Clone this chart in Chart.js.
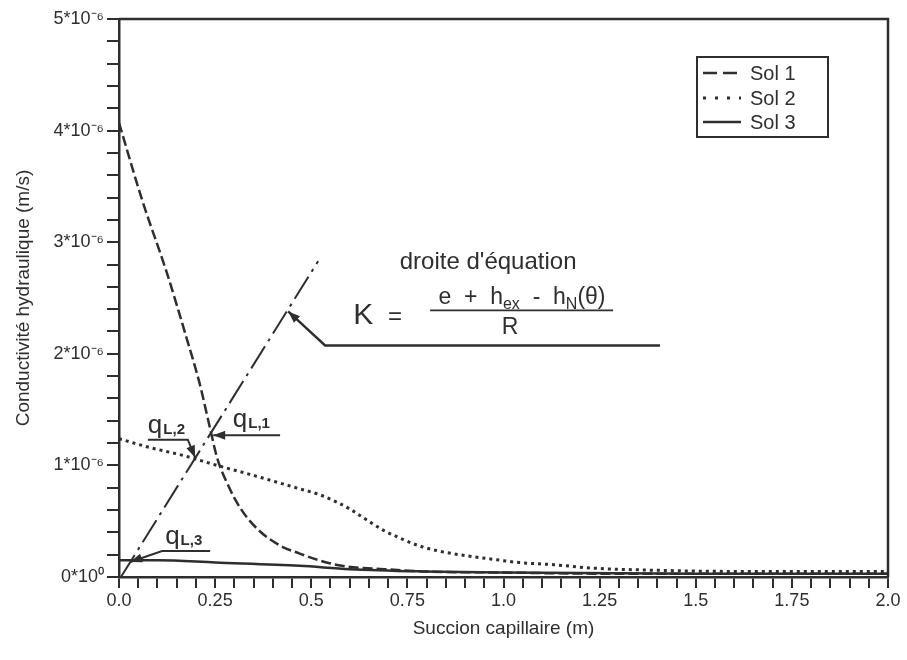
<!DOCTYPE html>
<html lang="fr">
  <head>
    <meta charset="UTF-8" />
    <title>Conductivité hydraulique</title>
    <script src="https://cdn.jsdelivr.net/npm/chart.js"></script>
    <style>
      body { margin: 0; background: #fff; }
    </style>
  </head>
  <body>
    <canvas id="kChart" width="907" height="660"></canvas>

    <script>
      // values, K in units of 1e-6 m/s
      const sol1X = [0, 0.06, 0.125, 0.175, 0.21, 0.237, 0.255, 0.28, 0.315, 0.36, 0.42, 0.47, 0.52, 0.58, 0.69, 0.79, 1.0, 1.25, 1.5, 1.75, 2.0];
      const sol1K = [4.07, 3.38, 2.72, 2.15, 1.73, 1.33, 1.07, 0.85, 0.62, 0.43, 0.28, 0.21, 0.15, 0.10, 0.07, 0.05, 0.04, 0.03, 0.03, 0.03, 0.03];

      const sol2X = [0, 0.08, 0.166, 0.255, 0.34, 0.47, 0.52, 0.567, 0.6, 0.645, 0.687, 0.73, 0.78, 0.835, 0.905, 0.97, 1.04, 1.13, 1.23, 1.4, 1.6, 1.8, 2.0];
      const sol2K = [1.24, 1.16, 1.09, 1.0, 0.92, 0.79, 0.74, 0.67, 0.61, 0.51, 0.42, 0.35, 0.28, 0.23, 0.19, 0.16, 0.13, 0.11, 0.08, 0.06, 0.05, 0.05, 0.05];

      const sol3X = [0, 0.1, 0.25, 0.47, 0.6, 0.79, 1.0, 1.5, 2.0];
      const sol3K = [0.15, 0.15, 0.13, 0.1, 0.07, 0.05, 0.04, 0.03, 0.03];

      // straight line K = (e + h_ex - h_N(theta)) / R
      const droiteX = [0.005, 0.518];
      const droiteK = [0, 2.83];

      const seriesLabels = ["Sol 1", "Sol 2", "Sol 3"];
      const xTickLabels = ["0.0", "0.25", "0.5", "0.75", "1.0", "1.25", "1.5", "1.75", "2.0"];
      const yTickLabels = ["0*10⁰", "1*10⁻⁶", "2*10⁻⁶", "3*10⁻⁶", "4*10⁻⁶", "5*10⁻⁶"];

      const ink = "#2e2e2e";
      const fontFamily = "'Liberation Sans', Arial, sans-serif";

      function pts(xs, ys) {
        return xs.map((x, i) => ({ x: x, y: ys[i] }));
      }

      // top and right edges of the frame
      const framePlugin = {
        id: "frame",
        afterDraw(chart) {
          const a = chart.chartArea;
          const c = chart.ctx;
          c.save();
          c.strokeStyle = ink;
          c.lineWidth = 2.5;
          c.beginPath();
          c.moveTo(a.left, a.top);
          c.lineTo(a.right, a.top);
          c.lineTo(a.right, a.bottom);
          c.stroke();
          c.restore();
        },
      };

      function arrow(c, path) {
        c.beginPath();
        c.moveTo(path[0][0], path[0][1]);
        for (let i = 1; i < path.length; i++) c.lineTo(path[i][0], path[i][1]);
        c.stroke();
        const [tx, ty] = path[path.length - 1];
        const [px, py] = path[path.length - 2];
        const ang = Math.atan2(ty - py, tx - px);
        const len = 12, half = 4.5;
        c.beginPath();
        c.moveTo(tx, ty);
        c.lineTo(tx - len * Math.cos(ang) + half * Math.sin(ang), ty - len * Math.sin(ang) - half * Math.cos(ang));
        c.lineTo(tx - len * Math.cos(ang) - half * Math.sin(ang), ty - len * Math.sin(ang) + half * Math.cos(ang));
        c.closePath();
        c.fill();
      }

      // draws runs of [text, size, baselineShift] centred on cx
      function runs(c, parts, cx, y) {
        let w = 0;
        parts.forEach((p) => {
          c.font = p[1] + "px " + fontFamily;
          w += c.measureText(p[0]).width;
        });
        let x = cx - w / 2;
        c.textAlign = "left";
        parts.forEach((p) => {
          c.font = p[1] + "px " + fontFamily;
          c.fillText(p[0], x, y + p[2]);
          x += c.measureText(p[0]).width;
        });
      }

      function qLabel(c, sub, x, y) {
        c.textAlign = "left";
        c.textBaseline = "alphabetic";
        c.font = "26px " + fontFamily;
        c.fillText("q", x, y);
        const w = c.measureText("q").width;
        c.font = "bold 15px " + fontFamily;
        c.fillText("L," + sub, x + w + 1, y + 1);
      }

      const notesPlugin = {
        id: "notes",
        afterDatasetsDraw(chart) {
          const sx = chart.scales.x, sy = chart.scales.y;
          const X = (v) => sx.getPixelForValue(v);
          const Y = (v) => sy.getPixelForValue(v);
          const c = chart.ctx;
          c.save();
          c.strokeStyle = ink;
          c.fillStyle = ink;
          c.lineWidth = 2;
          c.setLineDash([]);

          // equation block
          c.textBaseline = "middle";
          c.textAlign = "center";
          c.font = "24px " + fontFamily;
          c.fillText("droite d'équation", X(0.96), Y(2.82));
          c.font = "30px " + fontFamily;
          c.fillText("K", X(0.635), Y(2.34));
          c.font = "24px " + fontFamily;
          c.fillText("=", X(0.718), Y(2.33));
          c.textBaseline = "alphabetic";
          runs(c, [["e  +  h", 23, 0], ["ex", 16, 5], ["  -  h", 23, 0], ["N", 16, 5], ["(θ)", 23, 0]], X(1.048), Y(2.45));
          c.textBaseline = "middle";
          c.textAlign = "center";
          c.font = "23px " + fontFamily;
          c.fillText("R", X(1.017), Y(2.23));
          c.lineWidth = 1.8;
          c.beginPath();
          c.moveTo(X(0.809), Y(2.39));
          c.lineTo(X(1.285), Y(2.39));
          c.stroke();

          c.lineWidth = 2.4;
          arrow(c, [[X(1.407), Y(2.075)], [X(0.536), Y(2.075)], [X(0.44), Y(2.38)]]);

          // q labels
          c.lineWidth = 2;
          qLabel(c, "1", X(0.296), Y(1.34));
          arrow(c, [[X(0.419), Y(1.27)], [X(0.245), Y(1.27)]]);
          qLabel(c, "2", X(0.075), Y(1.29));
          arrow(c, [[X(0.075), Y(1.23)], [X(0.179), Y(1.23)], [X(0.198), Y(1.07)]]);
          qLabel(c, "3", X(0.12), Y(0.3));
          arrow(c, [[X(0.237), Y(0.233)], [X(0.112), Y(0.233)], [X(0.029), Y(0.135)]]);
          c.restore();
        },
      };

      const legendPlugin = {
        id: "boxLegend",
        afterDraw(chart) {
          const a = chart.chartArea;
          const c = chart.ctx;
          const left = a.right - 191, top = a.top + 38;
          c.save();
          c.strokeStyle = ink;
          c.fillStyle = ink;
          c.lineWidth = 2;
          c.strokeRect(left, top, 131, 80);
          c.font = "20px " + fontFamily;
          c.textBaseline = "middle";
          c.textAlign = "left";
          [16, 41, 65].forEach((dy, i) => {
            const ds = chart.data.datasets[i];
            c.lineWidth = ds.borderWidth;
            c.setLineDash(i === 0 ? [14, 6] : i === 1 ? [3, 9] : []);
            c.beginPath();
            c.moveTo(left + 6, top + dy);
            c.lineTo(left + 44, top + dy);
            c.stroke();
            c.setLineDash([]);
            c.fillText(ds.label, left + 53, top + dy + 1);
          });
          c.restore();
        },
      };

      const ctx = document.getElementById("kChart").getContext("2d");
      const kChart = new Chart(ctx, {
        type: "scatter",
        data: {
          datasets: [
            {
              label: seriesLabels[0],
              data: pts(sol1X, sol1K),
              showLine: true,
              borderColor: ink,
              borderWidth: 2.5,
              borderDash: [10, 4],
              pointRadius: 0,
              cubicInterpolationMode: "monotone",
            },
            {
              label: seriesLabels[1],
              data: pts(sol2X, sol2K),
              showLine: true,
              borderColor: ink,
              borderWidth: 3,
              borderDash: [3, 4],
              pointRadius: 0,
              cubicInterpolationMode: "monotone",
            },
            {
              label: seriesLabels[2],
              data: pts(sol3X, sol3K),
              showLine: true,
              borderColor: ink,
              borderWidth: 2.5,
              pointRadius: 0,
              cubicInterpolationMode: "monotone",
            },
            {
              label: "droite",
              data: pts(droiteX, droiteK),
              showLine: true,
              borderColor: ink,
              borderWidth: 2,
              borderDash: [26, 6, 3, 6],
              pointRadius: 0,
            },
          ],
        },
        options: {
          responsive: false,
          animation: false,
          layout: { padding: { top: 19, right: 19, left: 0, bottom: 0 } },
          plugins: {
            legend: { display: false },
            tooltip: { enabled: false },
          },
          scales: {
            x: {
              type: "linear",
              min: 0,
              max: 2,
              afterFit: (s) => { s.height = 83; },
              ticks: {
                stepSize: 0.05,
                autoSkip: false,
                maxRotation: 0,
                padding: 2,
                color: ink,
                font: { family: fontFamily, size: 18 },
                callback: (v) => {
                  const k = v / 0.25;
                  return Math.abs(k - Math.round(k)) < 1e-6 ? xTickLabels[Math.round(k)] : "";
                },
              },
              grid: { drawOnChartArea: false, tickLength: 11, color: ink, lineWidth: 2 },
              border: { color: ink, width: 2.5 },
              title: {
                display: true,
                text: "Succion capillaire (m)",
                color: ink,
                font: { family: fontFamily, size: 19 },
                padding: { top: 0, bottom: 20 },
              },
            },
            y: {
              type: "linear",
              min: 0,
              max: 5,
              afterFit: (s) => { s.width = 119; },
              ticks: {
                stepSize: 0.2,
                autoSkip: false,
                padding: 3,
                color: ink,
                font: { family: fontFamily, size: 18 },
                callback: (v) => {
                  return Math.abs(v - Math.round(v)) < 1e-6 ? yTickLabels[Math.round(v)] : "";
                },
              },
              grid: { drawOnChartArea: false, tickLength: 12, color: ink, lineWidth: 2 },
              border: { color: ink, width: 2.5 },
              title: {
                display: true,
                text: "Conductivité hydraulique (m/s)",
                color: ink,
                font: { family: fontFamily, size: 19 },
                padding: { top: 12, bottom: 4 },
              },
            },
          },
        },
        plugins: [framePlugin, notesPlugin, legendPlugin],
      });
    </script>
  </body>
</html>
